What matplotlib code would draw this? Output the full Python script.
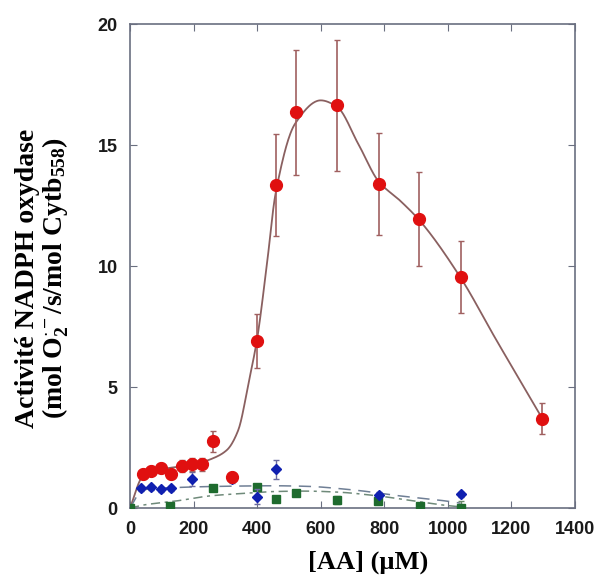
import numpy as np
import matplotlib
matplotlib.use("Agg")
import matplotlib.pyplot as plt

plt.rcParams['mathtext.fontset'] = 'custom'
plt.rcParams['mathtext.rm'] = 'Liberation Serif'
plt.rcParams['mathtext.bf'] = 'Liberation Serif:bold'
plt.rcParams['mathtext.it'] = 'Liberation Serif:italic'

# ---- data ----
red_x = [40, 65, 96, 128, 162, 196, 228, 261, 322, 400, 458, 522, 651, 782, 910, 1041, 1297]
red_y = [1.4, 1.55, 1.65, 1.4, 1.75, 1.8, 1.8, 2.75, 1.3, 6.9, 13.35, 16.35, 16.65, 13.4, 11.95, 9.55, 3.7]
red_err = [0.2, 0.2, 0.2, 0.2, 0.25, 0.25, 0.25, 0.45, 0.2, 1.1, 2.1, 2.6, 2.7, 2.1, 1.95, 1.5, 0.65]

blue_x = [34, 65, 96, 128, 196, 322, 398, 458, 783, 1040]
blue_y = [0.82, 0.85, 0.78, 0.81, 1.2, 1.18, 0.47, 1.6, 0.55, 0.57]
blue_err = [0.1, 0.1, 0.1, 0.1, 0.3, 0.15, 0.3, 0.4, 0.1, 0.1]

green_x = [0, 126, 261, 400, 458, 522, 652, 781, 911, 1040]
green_y = [0.0, 0.1, 0.81, 0.85, 0.38, 0.63, 0.33, 0.3, 0.08, 0.0]
green_err = [0.05, 0.05, 0.1, 0.1, 0.05, 0.1, 0.15, 0.1, 0.1, 0.3]

# fitted curves (knots)
red_fit_x = [0, 40, 100, 200, 260, 305, 340, 375, 400, 430, 458, 520, 600, 650, 720, 782, 850, 910, 1041, 1150, 1297]
red_fit_y = [0, 1.3, 1.6, 1.8, 2.05, 2.4, 3.2, 5.3, 7.0, 10.0, 13.0, 15.9, 16.85, 16.6, 15.0, 13.5, 12.7, 11.9, 9.5, 7.0, 3.7]
blue_fit_x = [0, 40, 150, 300, 450, 550, 700, 850, 1000, 1040]
blue_fit_y = [0, 0.75, 0.85, 0.9, 0.92, 0.9, 0.75, 0.5, 0.28, 0.2]
green_fit_x = [0, 40, 150, 250, 350, 450, 550, 650, 780, 900, 1000, 1040]
green_fit_y = [0, 0.12, 0.3, 0.5, 0.6, 0.68, 0.7, 0.66, 0.5, 0.28, 0.1, 0.05]

x_ticks = [0, 200, 400, 600, 800, 1000, 1200, 1400]
y_ticks = [0, 5, 10, 15, 20]


def pchip(xk, yk, xs):
    xk = np.asarray(xk, float); yk = np.asarray(yk, float)
    h = np.diff(xk); d = np.diff(yk) / h
    m = np.zeros_like(yk)
    for i in range(1, len(xk) - 1):
        if d[i - 1] * d[i] > 0:
            w1 = 2 * h[i] + h[i - 1]; w2 = h[i] + 2 * h[i - 1]
            m[i] = (w1 + w2) / (w1 / d[i - 1] + w2 / d[i])
    m[0] = d[0]; m[-1] = d[-1]
    idx = np.clip(np.searchsorted(xk, xs) - 1, 0, len(xk) - 2)
    t = (xs - xk[idx]) / h[idx]
    h00 = 2*t**3 - 3*t**2 + 1; h10 = t**3 - 2*t**2 + t
    h01 = -2*t**3 + 3*t**2; h11 = t**3 - t**2
    return h00*yk[idx] + h10*h[idx]*m[idx] + h01*yk[idx+1] + h11*h[idx]*m[idx+1]


fig = plt.figure(figsize=(6.03, 5.83), dpi=100)
ax = fig.add_axes([0.2156, 0.1286, 0.738, 0.830])

xs = np.linspace(red_fit_x[0], red_fit_x[-1], 600)
ax.plot(xs, pchip(red_fit_x, red_fit_y, xs), color='#8a6060', lw=1.3, zorder=2)
xs = np.linspace(blue_fit_x[0], blue_fit_x[-1], 400)
ax.plot(xs, pchip(blue_fit_x, blue_fit_y, xs), color='#6f7f95', lw=1.1, ls=(0, (8, 5)), zorder=2)
xs = np.linspace(green_fit_x[0], green_fit_x[-1], 400)
ax.plot(xs, pchip(green_fit_x, green_fit_y, xs), color='#6f8a7a', lw=1.1, ls=(0, (6, 3, 2, 3)), zorder=2)

ax.errorbar(green_x, green_y, yerr=green_err, fmt='s', color='#1e6b2e', ms=6, ecolor='#6a8a6a',
            elinewidth=1, capsize=2, zorder=3)
ax.errorbar(blue_x, blue_y, yerr=blue_err, fmt='D', color='#1020b0', ms=5.5, ecolor='#6a6aa0',
            elinewidth=1, capsize=2, zorder=4)
ax.errorbar(red_x, red_y, yerr=red_err, fmt='o', color='#e01010', ms=8.5, ecolor='#a06060',
            elinewidth=1.2, capsize=2, zorder=5)

ax.set_xlim(0, 1400)
ax.set_ylim(0, 20)
ax.set_xticks(x_ticks)
ax.set_yticks(y_ticks)
ax.tick_params(direction='in', top=True, right=True, length=5, color='#6a6f80',
               labelsize=13, labelcolor='#1a1a1a')
ax.tick_params(axis='x', pad=9)
ax.tick_params(axis='y', pad=9)
for lab in ax.get_xticklabels() + ax.get_yticklabels():
    lab.set_family('Liberation Sans')
    lab.set_fontweight('bold')
for s in ax.spines.values():
    s.set_color('#6a6f80')
    s.set_linewidth(1.2)

ax.set_xlabel('[AA] (µM)', family='Liberation Serif', fontweight='bold', fontsize=19)
ax.xaxis.set_label_coords(0.535, -0.087)
ax.set_ylabel('Activité NADPH oxydase\n(mol O$_\\mathbf{2}^{\\mathbf{\\cdot -}}$/s/mol Cytb$_\\mathbf{558}$)',
              family='Liberation Serif', fontweight='bold', fontsize=20, linespacing=1.05)
ax.yaxis.set_label_coords(-0.132, 0.475)

fig.savefig('out.png', dpi=100)
